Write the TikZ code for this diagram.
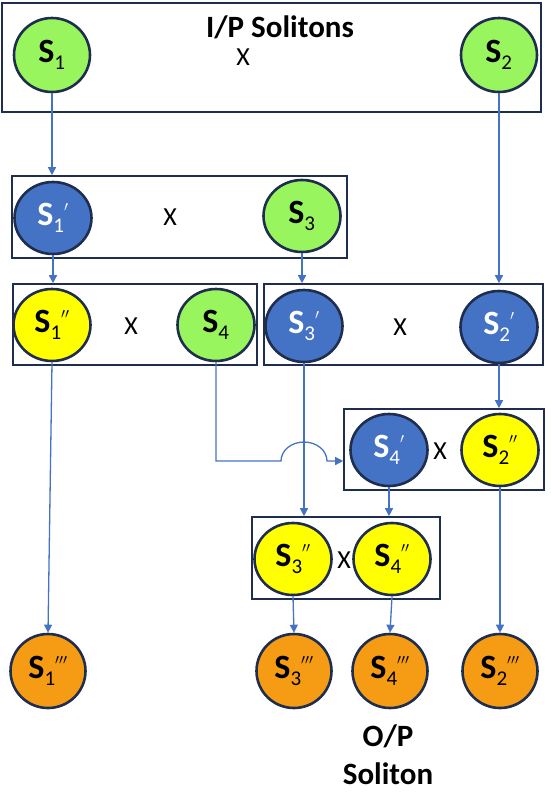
\documentclass[tikz,border=0pt]{standalone}
\usepackage{amsmath}
\usepackage{fontspec}
\setmainfont{Carlito}
\usepackage{xcolor}
\usepackage{tikz}
\usetikzlibrary{arrows.meta,positioning,shapes.geometric}

\definecolor{navy}{RGB}{31,45,78}
\definecolor{solgreen}{RGB}{153,245,94}
\definecolor{solblue}{RGB}{68,114,196}
\definecolor{solyellow}{RGB}{255,255,0}
\definecolor{solorange}{RGB}{245,155,20}
\definecolor{linkblue}{RGB}{68,114,196}

\newcommand{\solname}[2]{\textbf{S}\raisebox{-7pt}{\fontsize{21}{21}\selectfont #1}\raisebox{7pt}{\fontsize{21}{21}\selectfont$^{#2}$}}

\begin{document}
\begin{tikzpicture}[
  x=1pt, y=-1pt,
  grp/.style={draw=navy, line width=1.6pt, minimum height=81pt, inner sep=0pt},
  sol/.style={ellipse, draw=navy, line width=2.6pt, minimum width=77pt, minimum height=72pt, inner sep=0pt, font=\fontsize{34}{36}\selectfont},
  inp/.style={sol, fill=solgreen},
  pass/.style={sol, fill=solblue, text=white},
  mid/.style={sol, fill=solyellow},
  outp/.style={sol, fill=solorange, minimum width=75pt, minimum height=74pt},
  cross/.style={font=\fontsize{26}{28}\selectfont},
  title/.style={font=\bfseries\fontsize{31}{38}\selectfont, align=center},
  arrow/.style={-{Triangle[length=8pt, width=8pt]}, draw=linkblue, line width=1.3pt}
]
\useasboundingbox (0,0) rectangle (550,793);

% groups
\node[grp, minimum width=539pt, minimum height=109pt] (box1) at (271.5,57.5) {};
\node[grp, minimum width=335pt, minimum height=82pt] (box2) at (179.5,217) {};
\node[grp, minimum width=244pt] (box3a) at (135,324.5) {};
\node[grp, minimum width=279pt] (box3b) at (403.5,324.5) {};
\node[grp, minimum width=200pt] (box4) at (444,449.5) {};
\node[grp, minimum width=188pt, minimum height=82pt] (box5) at (346,558) {};

% solitons
\node[inp, minimum width=76pt, minimum height=74pt] (s1) at (52,55) {\solname{1}{}};
\node[inp, minimum width=76pt, minimum height=74pt] (s2) at (499,55) {\solname{2}{}};
\node[title] (inlbl) at (280,27) {I/P Solitons};
\node[cross] (x1) at (243,57) {X};

\node[pass] (s1p) at (53,218) {\solname{1}{\prime}};
\node[inp] (s3) at (302,216) {\solname{3}{}};
\node[cross] (x2) at (170,217) {X};

\node[mid] (s1pp) at (52,325) {\solname{1}{\prime\prime}};
\node[inp] (s4) at (216,325) {\solname{4}{}};
\node[cross] (x3) at (131,326) {X};

\node[pass] (s3p) at (304,326) {\solname{3}{\prime}};
\node[pass] (s2p) at (499,327) {\solname{2}{\prime}};
\node[cross] (x4) at (400,327) {X};

\node[pass] (s4p) at (389,450) {\solname{4}{\prime}};
\node[mid] (s2pp) at (500,450) {\solname{2}{\prime\prime}};
\node[cross] (x5) at (440,451) {X};

\node[mid] (s3pp) at (293,559) {\solname{3}{\prime\prime}};
\node[mid] (s4pp) at (392,559) {\solname{4}{\prime\prime}};
\node[cross] (x6) at (344,560) {X};

\node[outp] (s1ppp) at (48,671) {\solname{1}{\prime\prime\prime}};
\node[outp] (s3ppp) at (294,671) {\solname{3}{\prime\prime\prime}};
\node[outp] (s4ppp) at (390,671) {\solname{4}{\prime\prime\prime}};
\node[outp] (s2ppp) at (500,671) {\solname{2}{\prime\prime\prime}};
\node[title] (outlbl) at (388,755) {O/P\\Soliton};

% links
\draw[arrow] (s1.south) -- (s1.south |- box2.north);
\draw[arrow] (s1p.south) -- (s1p.south |- box3a.north);
\draw[arrow] (s3.south) -- (s3.south |- box3b.north);
\draw[arrow] (s2.south) -- (s2.south |- box3b.north);
\draw[arrow] (s2p.south) -- (s2p.south |- box4.north);
\draw[arrow] (s3p.south) -- (s3p.south |- box5.north);
\draw[arrow] (s4p.south) -- (s4p.south |- box5.north);

\coordinate (hopL) at (281,461);
\draw[arrow] (s4.south) |- (hopL)
  arc[start angle=180, end angle=0, x radius=23pt, y radius=19pt]
  -- (box4.west |- hopL);

\draw[arrow] (s1pp.south) -- (s1ppp.north);
\draw[arrow] (s3pp.south) -- (s3ppp.north);
\draw[arrow] (s4pp.south) -- (s4ppp.north);
\draw[arrow] (s2pp.south) -- (s2ppp.north);
\end{tikzpicture}
\end{document}
